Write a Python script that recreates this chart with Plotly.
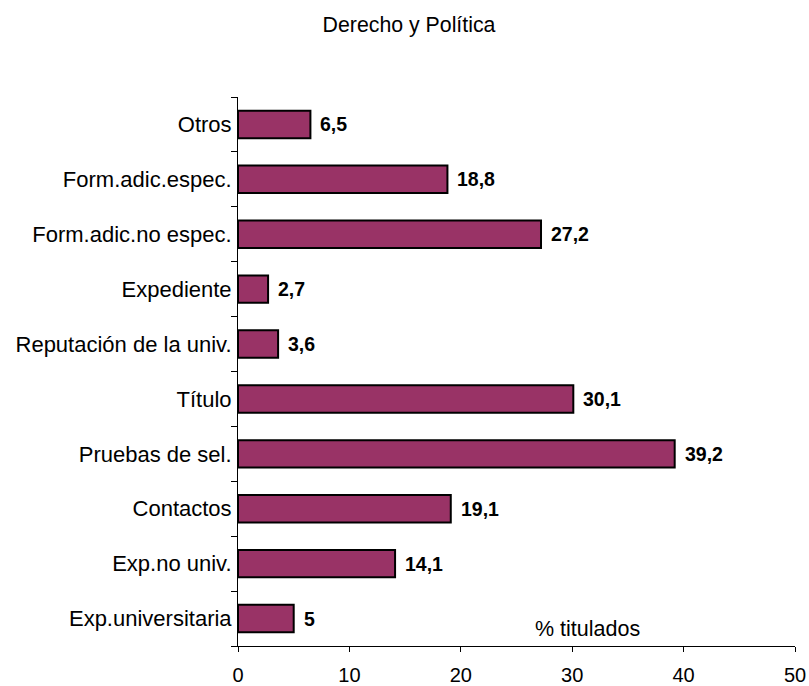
import plotly.graph_objects as go

# Factors valued by employers, bottom to top
categories = [
    "Exp.universitaria",
    "Exp.no univ.",
    "Contactos",
    "Pruebas de sel.",
    "Título",
    "Reputación de la univ.",
    "Expediente",
    "Form.adic.no espec.",
    "Form.adic.espec.",
    "Otros",
]
values = [5, 14.1, 19.1, 39.2, 30.1, 3.6, 2.7, 27.2, 18.8, 6.5]
x_ticks = [0, 10, 20, 30, 40, 50]

FONT = "Liberation Sans, Arial, sans-serif"
labels = [("%g" % v).replace(".", ",") for v in values]

fig = go.Figure(
    go.Bar(
        x=values,
        y=categories,
        orientation="h",
        width=0.5,
        marker=dict(color="#993366", line=dict(color="black", width=2)),
        hoverinfo="x+y",
    )
)

# value labels to the right of each bar
annotations = [
    dict(
        text=lab,
        x=v,
        y=cat,
        xref="x",
        yref="y",
        xanchor="left",
        yanchor="middle",
        xshift=8,
        showarrow=False,
        font=dict(family=FONT, size=19.5, color="black", weight="bold"),
    )
    for v, cat, lab in zip(values, categories, labels)
]
annotations.append(
    dict(
        text="% titulados",
        x=31.36,
        y=0.031,
        xref="x",
        yref="paper",
        xanchor="center",
        yanchor="middle",
        showarrow=False,
        font=dict(family=FONT, size=21.5, color="black"),
    )
)

fig.update_layout(
    template="none",
    width=809,
    height=686,
    margin=dict(l=238, r=14, t=97, b=40, autoexpand=False),
    paper_bgcolor="white",
    plot_bgcolor="white",
    showlegend=False,
    font=dict(family=FONT, size=22, color="black"),
    title=dict(
        text="Derecho y Política",
        x=0.5056,
        xanchor="center",
        y=0.9636,
        yanchor="middle",
        font=dict(family=FONT, size=21.3, color="black"),
    ),
    xaxis=dict(
        range=[0, 50],
        tickvals=x_ticks,
        showgrid=False,
        zeroline=False,
        showline=True,
        linecolor="black",
        linewidth=1,
        ticks="outside",
        ticklen=5,
        tickwidth=1,
        tickcolor="black",
        tickfont=dict(family=FONT, size=20),
        ticklabelstandoff=6,
        automargin=False,
    ),
    yaxis=dict(
        categoryorder="array",
        categoryarray=categories,
        range=[-0.5, 9.5],
        showgrid=False,
        zeroline=False,
        showline=True,
        linecolor="black",
        linewidth=1,
        ticks="outside",
        tickson="boundaries",
        ticklen=6,
        tickwidth=1,
        tickcolor="black",
        tickfont=dict(family=FONT, size=22),
        ticklabelstandoff=1,
        automargin=False,
    ),
    annotations=annotations,
)

fig.write_html("out.html")
